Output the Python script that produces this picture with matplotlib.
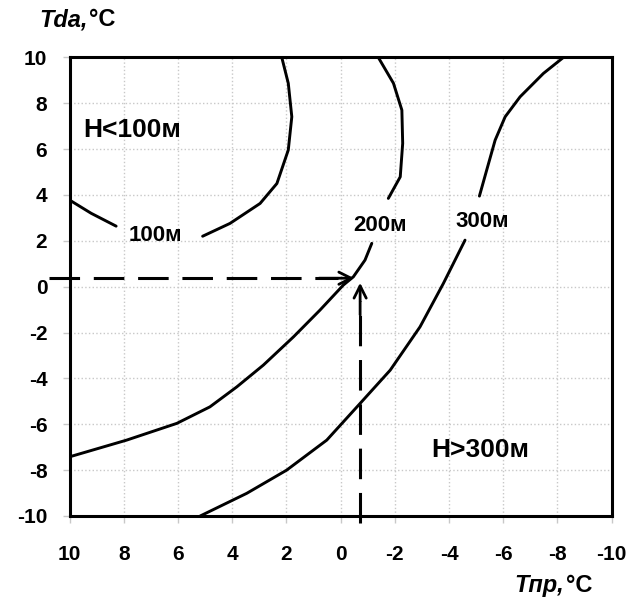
import matplotlib.pyplot as plt

# isolines (each split in two parts around its label)
c100_a_x = [10, 9.2, 8.28]
c100_a_y = [3.78, 3.2, 2.64]
c100_b_x = [5.09, 4.08, 2.97, 2.35, 1.93, 1.8, 1.93, 2.17]
c100_b_y = [2.2, 2.76, 3.63, 4.5, 5.96, 7.41, 8.87, 10]

c200_a_x = [-1.39, -1.95, -2.26, -2.29, -2.2, -1.76]
c200_a_y = [10, 8.87, 7.7, 6.25, 4.79, 3.85]
c200_b_x = [-1.15, -0.9, -0.47, -0.1, 0.76, 1.74, 2.85, 3.83, 4.82, 6.04, 7.89, 10]
c200_b_y = [1.89, 1.16, 0.43, 0.07, -1.02, -2.19, -3.42, -4.37, -5.24, -5.96, -6.69, -7.42]

c300_a_x = [-8.22, -7.48, -6.62, -6.07, -5.7, -5.39, -5.12]
c300_a_y = [10, 9.3, 8.28, 7.41, 6.39, 5.09, 3.95]
c300_b_x = [-4.59, -3.79, -2.93, -1.83, -0.72, 0.51, 1.99, 3.46, 5.18]
c300_b_y = [2.03, 0.14, -1.75, -3.64, -5.09, -6.69, -8.0, -9.01, -10]

labels = ['100м', '200м', '300м']
label_x = [6.84, -1.46, -5.21]
label_y = [2.22, 2.69, 2.83]

# example point
ex_x = -0.5
ex_y = 0.37
ex_xv = -0.72

ticks = [10, 8, 6, 4, 2, 0, -2, -4, -6, -8, -10]

plt.rcParams['font.family'] = ['Liberation Sans', 'DejaVu Sans']
plt.rcParams['axes.unicode_minus'] = False

fig = plt.figure(figsize=(6.29, 6.04), dpi=100)
ax = fig.add_axes([0.1105, 0.1457, 0.862, 0.7593])

for xs, ys in [(c100_a_x, c100_a_y), (c100_b_x, c100_b_y),
               (c200_a_x, c200_a_y), (c200_b_x, c200_b_y),
               (c300_a_x, c300_a_y), (c300_b_x, c300_b_y)]:
    ax.plot(xs, ys, color='black', lw=2.1, solid_capstyle='round',
            solid_joinstyle='round')

for t, x, y in zip(labels, label_x, label_y):
    ax.text(x, y, t, ha='center', va='center', fontsize=16, fontweight='bold')

ax.text(9.5, 6.83, 'H<100м', ha='left', va='center', fontsize=19, fontweight='bold')
ax.text(-3.35, -7.12, 'H>300м', ha='left', va='center', fontsize=19, fontweight='bold')

# dashed guide lines with arrows
ax.plot([10.74, ex_x + 0.6], [ex_y, ex_y], color='black', lw=2.2,
        dashes=(10, 4.5), clip_on=False)
ax.plot([ex_xv, ex_xv], [-10.3, ex_y - 1.0], color='black', lw=2.2,
        dashes=(10, 4.5), clip_on=False)
ax.annotate('', xy=(ex_x, ex_y), xytext=(ex_x + 1.3, ex_y),
            arrowprops=dict(arrowstyle='->', color='black', lw=2.0,
                            mutation_scale=22, shrinkA=0, shrinkB=0))
ax.annotate('', xy=(ex_xv, ex_y - 0.2), xytext=(ex_xv, ex_y - 1.6),
            arrowprops=dict(arrowstyle='->', color='black', lw=2.0,
                            mutation_scale=22, shrinkA=0, shrinkB=0))

ax.set_xlim(10, -10)
ax.set_ylim(-10, 10)
ax.set_xticks(ticks)
ax.set_yticks(ticks)
ax.grid(True, color='#c8c8c8', linestyle=':', lw=1.0)
ax.tick_params(direction='out', length=5, color='#c8c8c8', width=1,
               labelsize=15)
ax.tick_params(axis='x', pad=16)
ax.tick_params(axis='y', pad=11)
for lab in ax.get_xticklabels() + ax.get_yticklabels():
    lab.set_fontweight('bold')
for s in ax.spines.values():
    s.set_linewidth(2.2)
    s.set_color('black')

# axis titles: italic name followed by upright unit
r = fig.canvas.get_renderer()
for x0, y0, name in [(0.063, 0.967, 'Tda,'), (0.818, 0.031, 'Tпр,')]:
    t1 = fig.text(x0, y0, name, ha='left', va='center', fontsize=17,
                  fontweight='bold', fontstyle='italic')
    bb = t1.get_window_extent(r).transformed(fig.transFigure.inverted())
    fig.text(bb.x1 + 0.002, y0, '°C', ha='left', va='center', fontsize=17,
             fontweight='bold')

fig.savefig('out.png', dpi=100)
